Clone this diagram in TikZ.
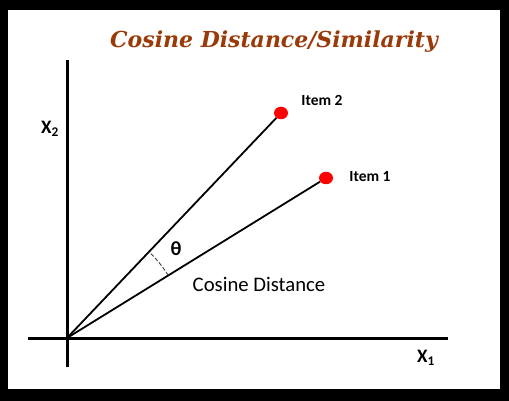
\documentclass[tikz,border=0pt]{standalone}
\usepackage{fontspec}
\setmainfont{Carlito}
\newfontfamily\titlefont{DejaVu Serif}
\usetikzlibrary{shapes.geometric}
\definecolor{titlebrown}{RGB}{153,58,8}

\begin{document}
\begin{tikzpicture}[x=1pt, y=-1pt,
    axis/.style={line width=3pt},
    vector/.style={line width=1.8pt},
    reddot/.style={ellipse, fill=red, inner sep=0pt, minimum width=14pt, minimum height=12.5pt},
    itemlabel/.style={font=\bfseries\fontsize{15.5}{18}\selectfont},
    axislabel/.style={font=\bfseries\fontsize{19}{22}\selectfont, inner sep=0pt}]
    % Frame
    \fill[black] (0,0) rectangle (509,401);
    \fill[white] (8,10) rectangle (500,389);

    % Title
    \node[titlebrown, font=\titlefont\bfseries\itshape\fontsize{22}{26}\selectfont] (title) at (274,42) {Cosine Distance/Similarity};

    % Axes
    \coordinate (O) at (67,338);
    \coordinate (xstart) at (28,338);
    \coordinate (xend) at (448,338);
    \coordinate (ystart) at (67,367);
    \coordinate (yend) at (67,60);
    \draw[axis] (xstart) -- (xend);
    \draw[axis] (ystart) -- (yend);
    \node[axislabel] (xonelabel) at (426,358) {X\textsubscript{1}};
    \node[axislabel] (xtwolabel) at (50,129) {X\textsubscript{2}};

    % Items
    \node[reddot] (itemtwo) at (281,113) {};
    \node[reddot] (itemone) at (326,178) {};
    \draw[vector] (O) -- (itemtwo);
    \draw[vector] (O) -- (itemone);
    \node[itemlabel] (itemtwolabel) at (322,100) {Item 2};
    \node[itemlabel] (itemonelabel) at (370,177) {Item 1};

    % Angle between the two items
    \draw[black!75, line width=0.9pt, dash pattern=on 4pt off 2pt] ([shift={(-31.7:119)}]O) arc (-31.7:-46.4:119);
    \node[font=\bfseries\fontsize{20}{24}\selectfont] (theta) at (176,249) {θ};
    \node[font=\fontsize{20.7}{24}\selectfont] (cosdist) at (259,284) {Cosine Distance};
\end{tikzpicture}
\end{document}
